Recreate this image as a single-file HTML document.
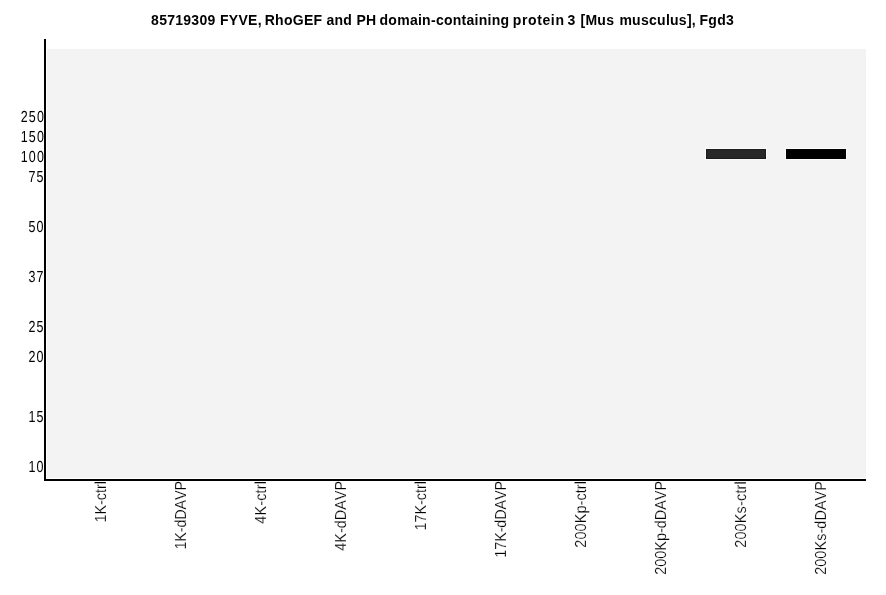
<!DOCTYPE html>
<html><head><meta charset="utf-8"><title>Blot</title>
<style>
html,body{margin:0;padding:0;background:#fff;}
body{width:886px;height:595px;position:relative;overflow:hidden;font-family:"Liberation Sans",sans-serif;color:#000;}
.abs{position:absolute;}
#title{letter-spacing:0.27px;left:0;width:886px;top:12px;text-align:center;font-weight:bold;font-size:14px;line-height:16px;white-space:nowrap;}
#plot{left:47px;top:49px;width:819px;height:429px;background:#f3f3f3;}
#yax{left:44px;top:39px;width:2px;height:442px;background:#000;}
#xax{left:44px;top:479px;width:822px;height:2px;background:#000;}
.yl{right:841.4px;font-size:16px;line-height:16px;height:16px;text-align:right;white-space:nowrap;letter-spacing:1.42px;transform:scaleX(0.78);transform-origin:100% 50%;text-rendering:geometricPrecision;}
.xl{font-size:16px;line-height:16px;height:16px;white-space:nowrap;transform-origin:0 0;transform:rotate(-90deg) scaleX(0.9);text-align:right;width:120px;font-kerning:none;text-rendering:geometricPrecision;-webkit-text-stroke:0.2px #fff;}
.band{height:10px;width:60px;top:149px;}
</style></head><body>
<div class="abs" id="title"><span style="position:relative;left:-0.2px">85719309</span> <span style="position:relative;left:0.1px">FYVE,</span> <span style="position:relative;left:-1.2px">RhoGEF</span> <span style="position:relative;left:-1.3px">and</span> <span style="position:relative;left:-1.2px">PH</span> <span style="position:relative;left:-2.2px">domain-containing</span> <span style="position:relative;left:-3px;letter-spacing:0.63px;margin-right:-2.5px">protein</span> <span style="position:relative;left:-1.8px">3</span> <span style="position:relative;left:-1px">[Mus</span> <span style="position:relative;left:0px">musculus],</span> <span style="position:relative;left:-0.7px">Fgd3</span></div>
<div class="abs" id="plot"></div>
<div class="abs" id="yax"></div>
<div class="abs" id="xax"></div>
<div class="abs yl" style="top:110px">250</div>
<div class="abs yl" style="top:130px">150</div>
<div class="abs yl" style="top:150px">100</div>
<div class="abs yl" style="top:170px">75</div>
<div class="abs yl" style="top:220px">50</div>
<div class="abs yl" style="top:270px">37</div>
<div class="abs yl" style="top:320px">25</div>
<div class="abs yl" style="top:350px">20</div>
<div class="abs yl" style="top:410px">15</div>
<div class="abs yl" style="top:460px">10</div>
<div class="abs band" style="left:706px;background:#282828;box-shadow:inset 0 0 0 1px #1b1b1b,0 0 0 1px #fbfbfb"></div>
<div class="abs band" style="left:786px;background:#000;box-shadow:0 0 0 1px #fbfbfb"></div>
<div class="abs xl" style="left:94px;top:589px;letter-spacing:0px">1K-ctrl</div>
<div class="abs xl" style="left:174px;top:589px;letter-spacing:-0.142857px">1K-dDAVP</div>
<div class="abs xl" style="left:254px;top:589px;letter-spacing:0.166667px">4K-ctrl</div>
<div class="abs xl" style="left:334px;top:589px;letter-spacing:0px">4K-dDAVP</div>
<div class="abs xl" style="left:414px;top:589px;letter-spacing:0px">17K-ctrl</div>
<div class="abs xl" style="left:494px;top:589px;letter-spacing:-0.125px">17K-dDAVP</div>
<div class="abs xl" style="left:574px;top:589px;letter-spacing:0.111111px">200Kp-ctrl</div>
<div class="abs xl" style="left:654px;top:589px;letter-spacing:0px">200Kp-dDAVP</div>
<div class="abs xl" style="left:734px;top:589px;letter-spacing:0.222222px">200Ks-ctrl</div>
<div class="abs xl" style="left:814px;top:589px;letter-spacing:0.1px">200Ks-dDAVP</div>
</body></html>
